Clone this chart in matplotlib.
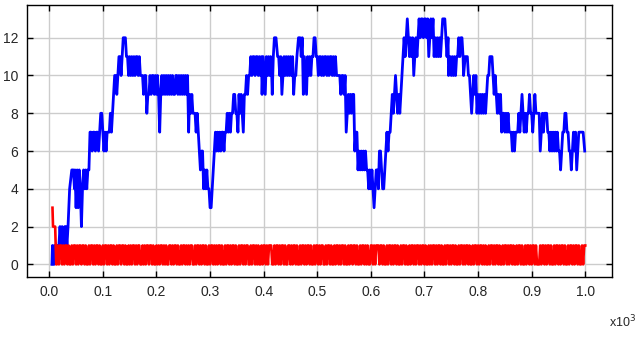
import matplotlib
matplotlib.use('Agg')
import matplotlib.pyplot as plt
import numpy as np

# blue series: (time, value)
blue_t = [5, 6, 9, 10, 11, 14, 18, 20, 22, 24, 27, 29, 31, 33, 35, 38, 42, 45, 47, 48,
          50, 52, 54, 56, 58, 60, 62, 64, 66, 68, 70, 72, 74, 76, 78, 80, 82, 84, 86, 88,
          90, 92, 94, 96, 98, 100, 102, 104, 106, 108, 110, 112, 114, 116, 118, 120, 122, 124, 126, 128,
          130, 132, 134, 136, 138, 140, 142, 144, 146, 148, 150, 152, 154, 156, 158, 160, 162, 164, 166, 168,
          170, 172, 174, 176, 178, 180, 182, 184, 186, 188, 190, 192, 194, 196, 198, 200, 202, 204, 206, 208,
          210, 212, 214, 216, 218, 220, 222, 224, 226, 228, 230, 232, 234, 236, 238, 240, 242, 244, 246, 248,
          250, 252, 254, 256, 258, 260, 262, 264, 266, 268, 270, 272, 274, 276, 278, 280, 282, 284, 286, 288,
          290, 292, 294, 296, 298, 300, 302, 304, 306, 308, 310, 312, 314, 316, 318, 320, 322, 324, 326, 328,
          330, 332, 334, 336, 338, 340, 342, 344, 346, 348, 350, 352, 354, 356, 358, 360, 362, 364, 366, 368,
          370, 372, 374, 376, 378, 380, 382, 384, 386, 388, 390, 392, 394, 396, 397, 399, 401, 403, 405, 407,
          409, 411, 413, 415, 416, 418, 420, 423, 426, 428, 430, 432, 434, 436, 438, 440, 442, 444, 446, 448,
          450, 452, 454, 456, 458, 460, 462, 465, 468, 470, 472, 474, 476, 478, 480, 482, 484, 486, 488, 490,
          492, 494, 496, 498, 500, 502, 504, 506, 508, 510, 512, 514, 516, 518, 520, 522, 524, 526, 528, 530,
          532, 534, 536, 538, 540, 542, 544, 546, 548, 550, 552, 554, 556, 558, 560, 562, 564, 566, 568, 570,
          572, 574, 576, 578, 580, 582, 584, 586, 588, 590, 592, 594, 596, 598, 600, 602, 604, 606, 608, 610,
          612, 614, 616, 618, 620, 622, 624, 626, 628, 630, 632, 634, 636, 638, 640, 642, 644, 646, 648, 650,
          652, 654, 656, 658, 660, 662, 664, 666, 668, 670, 672, 674, 676, 678, 680, 682, 684, 686, 688, 690,
          692, 694, 696, 698, 700, 702, 704, 706, 708, 710, 712, 714, 716, 718, 720, 722, 724, 726, 728, 730,
          732, 734, 736, 738, 740, 742, 744, 745, 748, 750, 752, 754, 756, 758, 760, 762, 764, 766, 768, 770,
          772, 773, 776, 778, 780, 782, 784, 786, 788, 790, 792, 794, 796, 798, 800, 802, 804, 806, 808, 810,
          812, 814, 816, 818, 820, 822, 824, 826, 828, 830, 832, 834, 836, 838, 840, 842, 844, 846, 848, 850,
          852, 854, 856, 858, 860, 862, 864, 866, 868, 870, 872, 874, 876, 878, 880, 882, 884, 886, 888, 890,
          892, 894, 896, 898, 900, 902, 904, 906, 908, 910, 912, 914, 916, 918, 920, 922, 924, 926, 928, 930,
          932, 934, 936, 938, 940, 942, 944, 946, 948, 950, 952, 954, 956, 958, 960, 962, 964, 966, 968, 970,
          972, 974, 976, 978, 980, 982, 984, 986, 988, 990, 992, 996, 999]
blue_v = [0, 1, 0, 1, 1, 1, 1, 2, 1, 2, 1, 2, 2, 1, 2, 4, 5, 5, 4, 5,
          3, 5, 3, 5, 4, 2, 4, 5, 4, 5, 4, 5, 5, 7, 7, 6, 7, 7, 6, 7,
          7, 6, 7, 8, 8, 7, 6, 7, 6, 7, 7, 7, 8, 7, 8, 9, 10, 10, 9, 10,
          11, 11, 10, 11, 12, 12, 12, 11, 11, 10, 11, 10, 11, 10, 11, 10, 11, 11, 10, 11,
          10, 10, 10, 9, 10, 10, 8, 9, 9, 10, 9, 10, 10, 9, 10, 9, 10, 9, 7, 9,
          10, 9, 10, 9, 10, 9, 10, 9, 10, 9, 10, 9, 9, 10, 10, 9, 10, 9, 10, 9,
          10, 9, 10, 9, 10, 7, 9, 8, 9, 8, 8, 8, 7, 8, 7, 6, 5, 6, 6, 4,
          5, 4, 5, 4, 4, 3, 3, 4, 5, 6, 7, 6, 7, 6, 7, 6, 7, 7, 6, 7,
          7, 8, 7, 8, 7, 8, 8, 9, 9, 8, 8, 7, 9, 8, 9, 8, 7, 9, 9, 10,
          9, 10, 10, 11, 10, 11, 11, 10, 11, 11, 10, 11, 10, 11, 9, 11, 10, 9, 11, 10,
          11, 10, 11, 10, 9, 11, 12, 12, 11, 11, 10, 11, 9, 10, 11, 10, 11, 10, 11, 10,
          11, 10, 11, 9, 10, 10, 11, 12, 12, 11, 12, 9, 11, 10, 9, 11, 10, 11, 10, 11,
          11, 12, 12, 11, 11, 10, 11, 11, 10, 11, 10, 11, 11, 10, 11, 10, 11, 11, 10, 11,
          10, 11, 10, 10, 10, 10, 9, 10, 10, 9, 10, 7, 8, 9, 8, 9, 8, 9, 9, 6,
          7, 7, 5, 6, 5, 6, 5, 6, 5, 6, 5, 5, 4, 5, 4, 5, 4, 3, 4, 5,
          5, 4, 6, 6, 5, 4, 4, 5, 6, 7, 6, 7, 7, 8, 9, 8, 9, 10, 9, 8,
          9, 8, 9, 10, 11, 12, 11, 12, 13, 12, 11, 12, 11, 12, 10, 11, 12, 11, 12, 13,
          12, 13, 13, 12, 13, 13, 12, 13, 11, 12, 13, 12, 13, 11, 12, 11, 12, 11, 12, 11,
          12, 13, 13, 13, 12, 11, 12, 10, 11, 10, 11, 10, 11, 10, 11, 11, 12, 11, 12, 12,
          11, 10, 11, 11, 11, 10, 10, 9, 8, 9, 10, 9, 10, 8, 9, 8, 9, 8, 9, 8,
          9, 8, 9, 10, 10, 11, 11, 11, 10, 9, 10, 9, 8, 9, 8, 9, 7, 8, 8, 7,
          8, 7, 8, 7, 7, 7, 6, 7, 6, 7, 7, 7, 8, 7, 8, 9, 8, 7, 8, 7,
          8, 8, 9, 8, 8, 7, 8, 9, 8, 8, 8, 8, 6, 7, 8, 7, 8, 8, 8, 7,
          7, 6, 7, 6, 7, 6, 7, 6, 7, 6, 6, 5, 6, 7, 7, 8, 8, 7, 7, 6,
          6, 5, 6, 7, 6, 7, 5, 6, 7, 7, 7, 7, 6]

# red series: short start, then 0/1 toggling sampled every 2 steps from t=14
red_start_t = [6, 7, 11, 13]
red_start_v = [3, 2, 2, 0]
red_pattern = (
    "01011010110100101101011011010010110101101001011010"
    "11010010110110100101011010110010101101101001010110"
    "10100110101101001011010101100101101011010010110101"
    "01101001011010110100101101011001011010100101101011"
    "10010110101101001101011010010110101101001011010110"
    "01011010010110101101001011011010010110101001101011"
    "10110100101101011010010110100101101011010110100101"
    "01101011010010110101101001011010110100101101011010"
    "10010110101101001011010110100101101001011010110100"
    "01011010110100101101011010010110101101001011010101"
)
red_step = 2
red_first = 14

xticks = [0, 100, 200, 300, 400, 500, 600, 700, 800, 900, 1000]
xtick_labels = ['0.0', '0.1', '0.2', '0.3', '0.4', '0.5', '0.6', '0.7', '0.8', '0.9', '1.0']
yticks = [0, 2, 4, 6, 8, 10, 12]

plt.rcParams['font.family'] = ['Liberation Sans', 'DejaVu Sans']

red_vals = [int(c) for c in red_pattern]
red_t = list(red_start_t) + [red_first + red_step * i for i in range(len(red_vals))]
red_v = list(red_start_v) + red_vals
red_t, red_v = zip(*[(t, v) for t, v in zip(red_t, red_v) if t <= 1000])

fig = plt.figure(figsize=(6.37, 3.37), dpi=100)
ax = fig.add_axes([0.042, 0.178, 0.918, 0.807])

ax.plot(blue_t, blue_v, color='#0000ff', lw=2.0, zorder=3)
ax.plot(red_t, red_v, color='#ff0000', lw=1.9, zorder=4)

ax.set_xlim(-42, 1049)
ax.set_ylim(-0.67, 13.73)
ax.set_xticks(xticks)
ax.set_xticklabels(xtick_labels)
ax.set_yticks(yticks)
ax.grid(True, color='#cccccc', lw=1)
ax.set_axisbelow(True)
ax.tick_params(direction='in', length=4, width=1, top=True, right=True,
               labelsize=10, labelcolor='#262626', pad=6)
for s in ax.spines.values():
    s.set_linewidth(1)
    s.set_color('black')

fig.text(0.956, 0.03, 'x10$^3$', fontsize=9, color='#262626')

fig.savefig('out.png', dpi=100)
